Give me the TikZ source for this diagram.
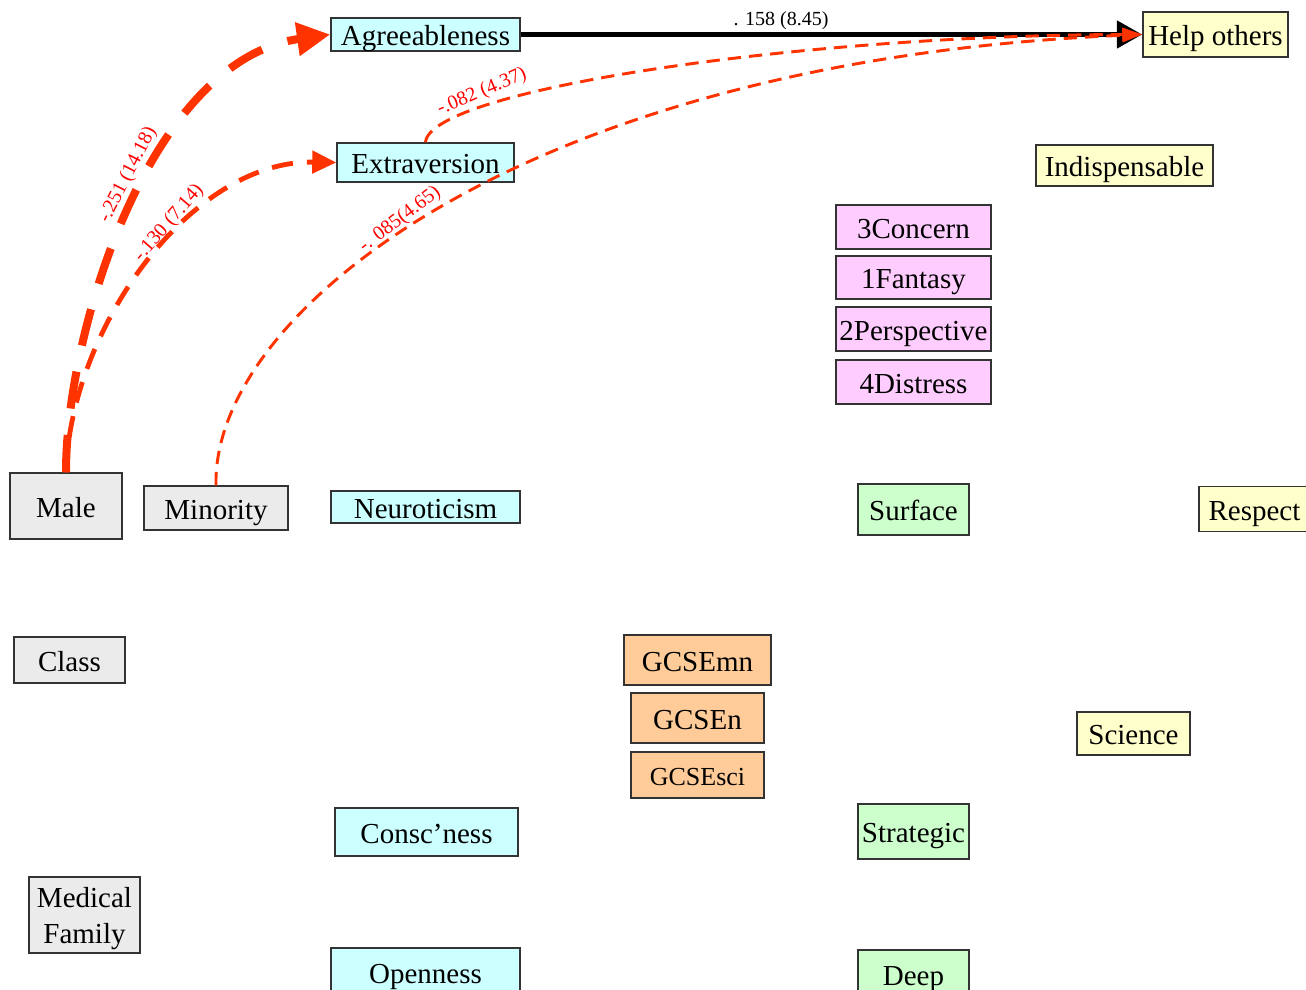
\documentclass[tikz,border=0pt]{standalone}
\usepackage{fontspec}
\setmainfont{Liberation Serif}
\usetikzlibrary{arrows.meta}
\definecolor{edgered}{HTML}{FF3300}
\definecolor{lblred}{HTML}{FF0000}
\definecolor{boxline}{HTML}{333333}
\definecolor{cyanbox}{HTML}{CCFFFF}
\definecolor{yelbox}{HTML}{FFFFCC}
\definecolor{pinkbox}{HTML}{FFCCFF}
\definecolor{greenbox}{HTML}{CCFFCC}
\definecolor{orangebox}{HTML}{FFCC99}
\definecolor{graybox}{HTML}{EBEBEB}
\begin{document}
\begin{tikzpicture}[x=0.75pt,y=-0.75pt,
  bx/.style={draw=boxline, line width=1.1pt, inner sep=0pt, anchor=center,
    font=\fontsize{21.75}{26}\selectfont, text height=16.5pt, text depth=0pt},
  sz/.style 2 args={minimum width=#1*0.75pt, minimum height=#2*0.75pt},
  lbl/.style={text=lblred, font=\fontsize{15}{18}\selectfont, inner sep=0pt},
  thickred/.style={draw=edgered, line width=6pt, dash pattern=on 28pt off 20pt},
  medred/.style={draw=edgered, line width=3.6pt, dash pattern=on 16pt off 10.5pt},
  thinred/.style={draw=edgered, line width=2.2pt, dash pattern=on 10pt off 6pt},
  redtip/.style={-{Triangle[length=15pt,width=10pt]}}
]
\useasboundingbox (0,0) rectangle (1306,989);
\clip (0,0) rectangle (1306,989);

% nodes
\node[bx, sz={189}{33}, fill=cyanbox] (agree) at (425.5,34.5) {Agreeableness};
\node[bx, sz={145}{45}, fill=yelbox] (help) at (1215.5,34.5) {Help others};
\node[bx, sz={177}{39}, fill=cyanbox] (extra) at (425.5,162.5) {Extraversion};
\node[bx, sz={177}{41}, fill=yelbox] (indisp) at (1124.5,165.5) {Indispensable};
\node[bx, sz={155}{44}, fill=pinkbox] (concern) at (913.5,227) {3Concern};
\node[bx, sz={155}{43}, fill=pinkbox] (fantasy) at (913.5,277.5) {1Fantasy};
\node[bx, sz={155}{44}, fill=pinkbox] (persp) at (913.5,329) {2Perspective};
\node[bx, sz={155}{44}, fill=pinkbox] (distress) at (913.5,382) {4Distress};
\node[bx, sz={112}{66}, fill=graybox] (male) at (66,506) {Male};
\node[bx, sz={144}{44}, fill=graybox] (minority) at (216,508) {Minority};
\node[bx, sz={189}{32}, fill=cyanbox] (neuro) at (425.5,507) {Neuroticism};
\node[bx, sz={111}{51}, fill=greenbox] (surface) at (913.5,509.5) {Surface};
\node[bx, sz={111}{45}, fill=yelbox] (respect) at (1254.5,509) {Respect};
\node[bx, sz={111}{46}, fill=graybox] (class) at (69.5,660) {Class};
\node[bx, sz={147}{50}, fill=orangebox] (gcsemn) at (697.5,660) {GCSEmn};
\node[bx, sz={133}{50}, fill=orangebox] (gcsen) at (697.5,718) {GCSEn};
\node[bx, sz={133}{46}, fill=orangebox, font=\fontsize{19.5}{24}\selectfont, text height=15pt] (gcsesci) at (697.5,775) {GCSEsci};
\node[bx, sz={113}{43}, fill=yelbox] (science) at (1133.5,733.5) {Science};
\node[bx, sz={183}{48}, fill=cyanbox] (consc) at (426.5,832) {Consc'ness};
\node[bx, sz={111}{55}, fill=greenbox] (strategic) at (913.5,831.5) {Strategic};
\node[draw=boxline, line width=1.1pt, inner sep=0pt, sz={111}{76}, fill=graybox,
  label={[align=center, font=\fontsize{21.75}{27}\selectfont, inner sep=0pt, yshift=-3pt]center:{Medical\\Family}}] (medical) at (84.5,915) {};
\node[bx, sz={189}{48}, fill=cyanbox] (open) at (425.5,972) {Openness};
\node[bx, sz={111}{48}, fill=greenbox] (deep) at (913.5,974) {Deep};

% connectors
\draw[line width=4.2pt, -{Triangle[length=19pt,width=20pt]}] (agree.east) -- (help.west);
\node[font=\fontsize{15}{18}\selectfont, inner sep=0pt] (l0) at (781,21) {. 158 (8.45)};

\draw[thinred, redtip] (extra.north) .. controls (430,90) and (800,35) .. (help.west);
\draw[thinred, redtip] (minority.north) .. controls (212,310) and (530,60) .. (help.west);
\draw[medred, -{Triangle[length=18pt,width=16.5pt]}] (male.north) .. controls (70,330) and (190,160) .. (extra.west);
\draw[thickred, -{Triangle[length=25pt,width=24pt]}] (male.north) .. controls (66,330) and (150,60) .. (agree.west);

% labels
\node[lbl, rotate=63] (l1) at (128,175) {-.251 (14.18)};
\node[lbl, rotate=49] (l2) at (169,223) {-.130 (7.14)};
\node[lbl, rotate=23] (l3) at (482,92) {-.082 (4.37)};
\node[lbl, rotate=37] (l4) at (400,220) {-. 085(4.65)};
\end{tikzpicture}
\end{document}
